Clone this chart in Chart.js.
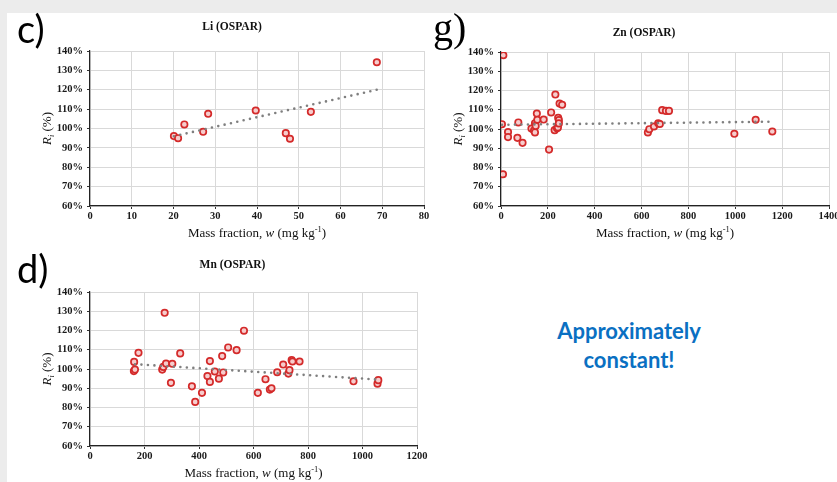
<!DOCTYPE html>
<html>
<head>
<meta charset="utf-8">
<script src="https://cdn.jsdelivr.net/npm/chart.js@4.4.0/dist/chart.umd.min.js"></script>
<style>
  html, body { margin: 0; padding: 0; }
  body { width: 837px; height: 482px; overflow: hidden; position: relative; background: #ececec; }
  #panel { position: absolute; left: 7px; top: 13px; right: 0; bottom: 0; background: #fff; }
  canvas { position: absolute; }
  .big { position: absolute; color: #000; line-height: 1; white-space: nowrap; }
  .sans { font-family: Lato, "Open Sans", sans-serif; font-size: 38px; }
  .serif { font-family: "Liberation Serif", serif; font-size: 40px; }
  #note { position: absolute; left: 529px; top: 316px; width: 200px; text-align: center;
          font-family: Lato, "Open Sans", sans-serif; font-weight: bold; font-size: 22px;
          line-height: 29px; color: #0a70c2; }
</style>
</head>
<body>
<div id="panel"></div>
<canvas id="chartLi" width="430" height="232" style="left:7px;top:13px"></canvas>
<canvas id="chartZn" width="440" height="232" style="left:418px;top:13px"></canvas>
<canvas id="chartMn" width="430" height="232" style="left:7px;top:250px"></canvas>
<div class="big sans" style="left:17px;top:9px">c)</div>
<div class="big serif" style="left:433px;top:8px">g)</div>
<div class="big sans" style="left:17px;top:249px">d)</div>
<div id="note">Approximately<br>constant!</div>

<script>
// Li (OSPAR)
const liW = [20.1, 21.1, 22.6, 27.1, 28.3, 39.7, 46.9, 47.9, 52.9, 68.7];
const liR = [96.1, 95.0, 102.1, 98.3, 107.6, 109.3, 97.6, 94.7, 108.6, 134.2];
const liTrendW = [20.1, 68.7];
const liTrendR = [96.0, 120.0];

// Zn (OSPAR)
const znW = [4, 10, 8.5, 30, 30, 70, 74, 92, 130, 141, 145, 145, 148, 153, 155, 182, 205, 214,
             229, 232, 239, 243, 244, 247, 247, 250, 261,
             627, 633, 653, 671, 678, 688, 704, 717, 996, 1087, 1158];
const znR = [102.5, 138.3, 76.5, 98.4, 95.8, 95.4, 103.4, 92.8, 100.2, 99.2, 103.0, 98.2, 101.6, 108.0, 104.8, 104.9, 89.3, 108.6,
             99.4, 117.9, 100.4, 100.8, 105.8, 104.6, 102.9, 113.2, 112.6,
             98.2, 99.9, 101.3, 103.0, 102.6, 109.8, 109.4, 109.4, 97.5, 104.8, 98.7];
const znTrendW = [4, 1158];
const znTrendR = [102.2, 103.8];

// Mn (OSPAR)
const mnW = [162, 161, 165, 178, 274, 265, 269, 279, 297, 302, 331, 374, 386, 411, 431, 440, 440, 458, 473,
             485, 489, 507, 538, 565, 616, 644, 660, 666, 687, 709, 728, 732, 740, 743, 769, 967, 1055, 1058];
const mnR = [103.7, 98.9, 99.7, 108.4, 129.2, 99.7, 101.1, 102.8, 92.8, 102.7, 108.1, 91.0, 82.9, 87.6, 96.3, 104.1, 93.3, 98.7, 95.0,
             106.7, 98.2, 111.2, 109.8, 119.9, 87.6, 94.7, 89.3, 90.0, 98.3, 102.3, 97.6, 99.4, 104.6, 103.9, 103.9, 93.6, 92.4, 94.2];
const mnTrendW = [165, 1057];
const mnTrendR = [102.5, 94.5];

// axis ticks
const yTicks = [60, 70, 80, 90, 100, 110, 120, 130, 140];

const SERIF = '"Liberation Serif", "Times New Roman", serif';
const xTitle = [
    { text: 'Mass fraction, ', font: '13px ' + SERIF },
    { text: 'w', font: 'italic 13px ' + SERIF },
    { text: ' (mg kg', font: '13px ' + SERIF },
    { text: '-1', font: '8.5px ' + SERIF, dy: -5 },
    { text: ')', font: '13px ' + SERIF }
];
const yTitle = [
    { text: 'R', font: 'italic 13px ' + SERIF },
    { text: 'i', font: 'italic 8.5px ' + SERIF, dy: 3 },
    { text: ' (%)', font: '13px ' + SERIF }
];

function drawRich(ctx, segs, cx, baseY) {
    let w = 0;
    segs.forEach(s => { ctx.font = s.font; w += ctx.measureText(s.text).width; });
    let x = cx - w / 2;
    ctx.textAlign = 'left';
    ctx.textBaseline = 'alphabetic';
    segs.forEach(s => {
        ctx.font = s.font;
        ctx.fillText(s.text, x, baseY + (s.dy || 0));
        x += ctx.measureText(s.text).width;
    });
}

// titles with mixed italic / sub / superscript
const richTitles = {
    id: 'richTitles',
    afterDraw(chart, args, o) {
        const ctx = chart.ctx, a = chart.chartArea;
        const mid = (a.left + a.right) / 2;
        ctx.save();
        ctx.fillStyle = '#111';
        ctx.font = 'bold 11.5px ' + SERIF;
        ctx.textAlign = 'center';
        ctx.textBaseline = 'middle';
        ctx.fillText(o.title, mid + o.titleDx, a.top - o.titleDy);
        drawRich(ctx, xTitle, mid, a.bottom + 31);
        ctx.translate(a.left - 39, (a.top + a.bottom) / 2);
        ctx.rotate(-Math.PI / 2);
        drawRich(ctx, yTitle, 0, 0);
        ctx.restore();
    }
};

function toPoints(xs, ys) {
    return xs.map((x, i) => ({ x: x, y: ys[i] }));
}

function makeChart(id, cfg) {
    const tickFont = { family: SERIF, size: 10.5, weight: 'bold' };
    new Chart(document.getElementById(id), {
        type: 'scatter',
        data: {
            datasets: [{
                type: 'line',
                data: toPoints(cfg.trendW, cfg.trendR),
                borderColor: '#7f7f7f',
                borderWidth: 2.6,
                borderDash: [0, 6.5],
                borderCapStyle: 'round',
                pointRadius: 0,
                order: 0
            }, {
                data: toPoints(cfg.w, cfg.r),
                pointRadius: 3.2,
                pointBorderWidth: 1.7,
                pointBorderColor: '#d42a2a',
                pointBackgroundColor: '#f6cccc',
                order: 1
            }]
        },
        options: {
            responsive: false,
            animation: false,
            events: [],
            layout: { padding: cfg.padding },
            plugins: {
                legend: { display: false },
                tooltip: { enabled: false },
                richTitles: { title: cfg.title, titleDx: cfg.titleDx, titleDy: cfg.titleDy }
            },
            scales: {
                x: {
                    type: 'linear',
                    min: 0,
                    max: cfg.xMax,
                    ticks: { stepSize: cfg.xStep, font: tickFont, color: '#1a1a1a', padding: 1, maxRotation: 0, autoSkip: false,
                             callback: v => String(v) },
                    grid: { color: '#d9d9d9', tickColor: '#333', tickLength: 3 },
                    border: { color: '#222', width: 1.2 },
                    afterFit: s => { s.height = 20; }
                },
                y: {
                    min: yTicks[0],
                    max: yTicks[yTicks.length - 1],
                    afterBuildTicks: s => { s.ticks = yTicks.map(v => ({ value: v })); },
                    ticks: { font: tickFont, color: '#1a1a1a', padding: 4, callback: v => v + '%' },
                    grid: { color: '#d9d9d9', tickColor: '#333', tickLength: 3 },
                    border: { color: '#222', width: 1.2 },
                    afterFit: s => { s.width = 43; }
                }
            }
        },
        plugins: [richTitles]
    });
}

makeChart('chartLi', {
    w: liW, r: liR, trendW: liTrendW, trendR: liTrendR,
    xMax: 80, xStep: 10, title: 'Li (OSPAR)', titleDx: -25, titleDy: 24,
    padding: { left: 40, top: 38, right: 13, bottom: 19 }
});
makeChart('chartZn', {
    w: znW, r: znR, trendW: znTrendW, trendR: znTrendR,
    xMax: 1400, xStep: 200, title: 'Zn (OSPAR)', titleDx: -21, titleDy: 19,
    padding: { left: 40, top: 39, right: 29, bottom: 19 }
});
makeChart('chartMn', {
    w: mnW, r: mnR, trendW: mnTrendW, trendR: mnTrendR,
    xMax: 1200, xStep: 200, title: 'Mn (OSPAR)', titleDx: -21, titleDy: 27,
    padding: { left: 40, top: 42, right: 20, bottom: 16 }
});
</script>
</body>
</html>
